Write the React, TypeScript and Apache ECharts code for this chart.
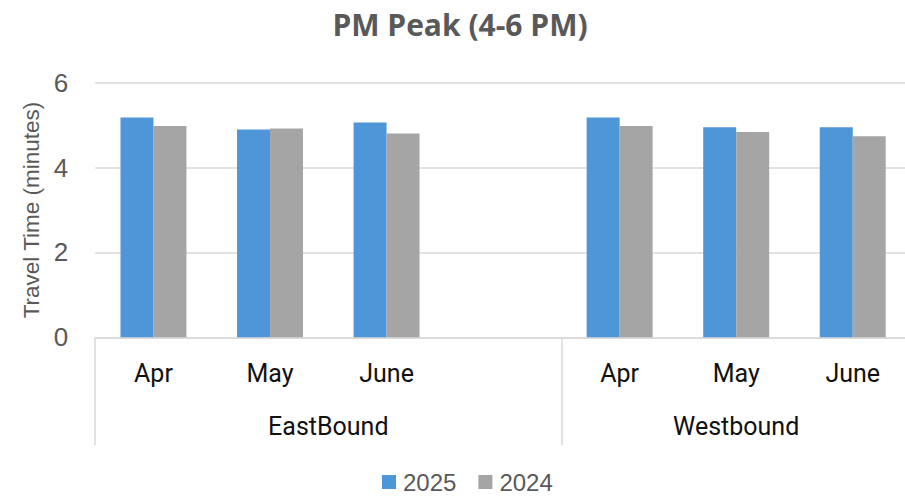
import React, { useEffect, useRef } from "react";
import * as echarts from "echarts";

const months = ["Apr", "May", "June", "", "Apr", "May", "June"];
const groups = ["EastBound", "Westbound"];
const groupCenters = [2, 5.5];
const groupDividers = [0, 4];
const series2025 = [5.18, 4.9, 5.06, null, 5.18, 4.95, 4.95];
const series2024 = [4.98, 4.92, 4.8, null, 4.98, 4.84, 4.74];
const yTicks = [0, 2, 4, 6];

export default function App() {
  const ref = useRef<HTMLDivElement>(null);
  useEffect(() => {
    if (!ref.current) return;
    document.body.style.margin = "0";
    const chart = echarts.init(ref.current, null, { renderer: "svg" });
    chart.setOption({
      animation: false,
      title: {
        text: "PM Peak (4-6 PM)",
        left: 455,
        textAlign: "center",
        top: 4,
        textStyle: { fontFamily: "Open Sans", fontWeight: "bold", fontSize: 30, color: "#595959" },
      },
      legend: {
        bottom: 4,
        left: 382,
        padding: 0,
        itemWidth: 14,
        itemHeight: 14,
        itemGap: 22,
        icon: "rect",
        textStyle: { fontFamily: "Liberation Sans", fontSize: 24, color: "#595959", padding: [0, 0, 0, 2] },
        data: ["2025", "2024"],
      },
      grid: { left: 95.2, right: 0, top: 82.7, bottom: 160.7, containLabel: false },
      xAxis: [
        {
          type: "category",
          data: months,
          axisLine: { show: true, lineStyle: { color: "#d9d9d9", width: 1.5 } },
          axisTick: { show: false },
          axisLabel: { margin: 24, fontFamily: "Roboto", fontSize: 25, color: "#111" },
        },
        {
          type: "value",
          min: 0,
          max: 7,
          position: "bottom",
          axisLine: { show: false },
          splitLine: { show: false },
          axisTick: { show: true, customValues: groupDividers, length: 108, lineStyle: { color: "#d9d9d9", width: 1.5 } },
          axisLabel: {
            customValues: groupCenters,
            margin: 77,
            fontFamily: "Roboto",
            fontSize: 25,
            color: "#111",
            formatter: (v: number) => groups[groupCenters.indexOf(v)] ?? "",
          },
        },
      ],
      yAxis: {
        type: "value",
        min: yTicks[0],
        max: yTicks[yTicks.length - 1],
        interval: 2,
        name: "Travel Time (minutes)",
        nameLocation: "middle",
        nameGap: 52,
        nameTextStyle: { fontFamily: "Liberation Sans", fontSize: 22.5, color: "#595959" },
        axisLine: { show: false },
        axisTick: { show: false },
        axisLabel: { margin: 27, fontFamily: "Liberation Sans", fontSize: 26, color: "#595959" },
        splitLine: { lineStyle: { color: "#d9d9d9", width: 1.5 } },
      },
      series: [
        {
          name: "2025",
          type: "bar",
          data: series2025,
          barWidth: "28.3%",
          barGap: "0%",
          itemStyle: { color: "#4f96d9" },
        },
        {
          name: "2024",
          type: "bar",
          data: series2024,
          barWidth: "28.3%",
          barGap: "0%",
          itemStyle: { color: "#a5a5a5" },
        },
      ],
    });
    return () => chart.dispose();
  }, []);
  return (
    <div style={{ width: 905, height: 498, overflow: "hidden" }}>
      <div ref={ref} style={{ width: 911, height: 498 }} />
    </div>
  );
}
